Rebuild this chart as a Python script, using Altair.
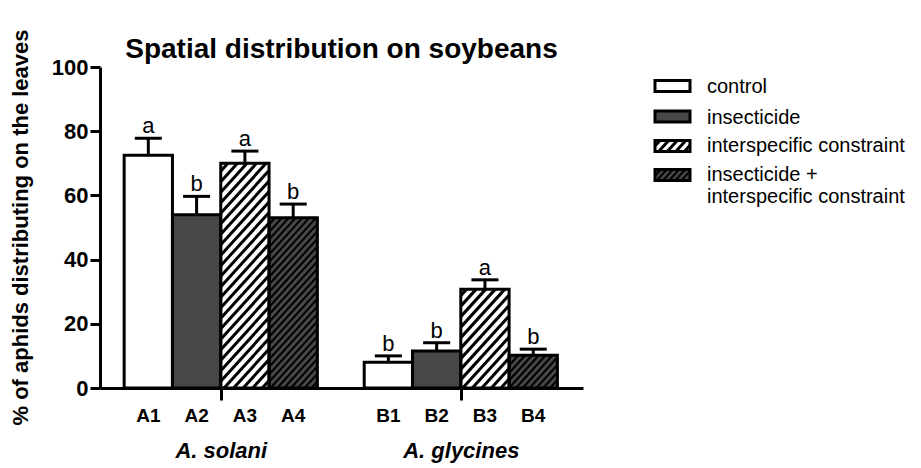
import altair as alt
import pandas as pd
import math

# ---------------- data ----------------
bar_labels = ["A1", "A2", "A3", "A4", "B1", "B2", "B3", "B4"]
species = ["A. solani", "A. glycines"]
treatments = ["control", "insecticide", "interspecific constraint",
              "insecticide + interspecific constraint"]
means = [72.5, 54.0, 70.0, 53.0, 8.0, 11.5, 30.8, 10.2]
errors = [5.3, 5.7, 3.8, 4.3, 2.0, 2.6, 2.9, 1.9]
letters = ["a", "b", "a", "b", "b", "b", "a", "b"]
y_ticks = [0, 20, 40, 60, 80, 100]

# ---------------- layout / style ----------------
FONT = "Liberation Sans"
W, H = 483, 321
XMAX, YMAX = 10.0, 100.0
PXX, PXY = W / XMAX, H / YMAX
PAD_L, PAD_T = 92, 59
TOT_W, TOT_H = 905, 458
group_start = [0.5, 5.47]
bar_w = 1.0
cap_half = 0.28
fills = ["white", "#474747", "white", "#474747"]
hatch = [None, None, (10.5, 3.0), (7.5, 2.0)]  # (vertical spacing px, stroke px)
SLOPE = 1.1


def hatch_segments(L, R, B, T, spacing):
    """segments of '/' hatching clipped to a pixel rectangle (y upward)"""
    segs = []
    k0 = math.floor((B - SLOPE * R) / spacing)
    k1 = math.ceil((T - SLOPE * L) / spacing)
    for k in range(k0, k1 + 1):
        c = k * spacing
        xa = max(L, (B - c) / SLOPE)
        xb = min(R, (T - c) / SLOPE)
        if xb - xa > 0.5:
            segs.append((xa, SLOPE * xa + c, xb, SLOPE * xb + c))
    return segs


rows, hrows = [], []
for i, lab in enumerate(bar_labels):
    g, j = divmod(i, 4)
    x0 = group_start[g] + j * bar_w
    x1 = x0 + bar_w
    rows.append(dict(label=lab, treat=treatments[j], x0=x0, x1=x1,
                     xc=(x0 + x1) / 2, cl=(x0 + x1) / 2 - cap_half,
                     cr=(x0 + x1) / 2 + cap_half, zero=0.0, mean=means[i],
                     top=means[i] + errors[i], letter=letters[i], fill=fills[j]))
    if hatch[j]:
        sp, sw = hatch[j]
        for (xa, ya, xb, yb) in hatch_segments(x0 * PXX, x1 * PXX, 0, means[i] * PXY, sp):
            hrows.append(dict(hx=xa / PXX, hy=ya / PXY, hx2=xb / PXX, hy2=yb / PXY, sw=sw))

bars = pd.DataFrame(rows)

# legend (positioned in page pixels, converted to the chart's data units)
PLOT_X0 = PAD_L + 8
PLOT_Y1 = PAD_T + 8 + H


def px2x(page_x):
    return (page_x - PLOT_X0) / PXX


def py2y(page_y):
    return (PLOT_Y1 - page_y) / PXY


leg_sw = [86, 116.5, 146, 175]
lrows = []
for j, t in enumerate(treatments):
    L, R = 655 - PLOT_X0, 690 - PLOT_X0
    B, T = PLOT_Y1 - (leg_sw[j] + 5.5), PLOT_Y1 - (leg_sw[j] - 5.5)
    lrows.append(dict(lx=L / PXX, lx2=R / PXX, ly=B / PXY, ly2=T / PXY, fill=fills[j]))
    if hatch[j]:
        sp, sw = hatch[j]
        for (xa, ya, xb, yb) in hatch_segments(L, R, B, T, sp * 0.9):
            hrows.append(dict(hx=xa / PXX, hy=ya / PXY, hx2=xb / PXX, hy2=yb / PXY, sw=sw))
legend_sw = pd.DataFrame(lrows)
hatch_df = pd.DataFrame(hrows)

leg_lines = [treatments[0], treatments[1], treatments[2]] + \
    [treatments[3].split(" + ")[0] + " +", treatments[3].split(" + ")[1]]
leg_base = [93, 123.5, 152, 181, 203]
legend_txt = pd.DataFrame(dict(t=leg_lines, tx=[px2x(707)] * 5,
                               ty=[py2y(b) for b in leg_base]))

group_centers = [group_start[0] + 2 * bar_w, group_start[1] + 2 * bar_w]

xs = alt.Scale(domain=[0, XMAX], nice=False, zero=False)
ys = alt.Scale(domain=[0, YMAX], nice=False, zero=False)
label_expr = f"abs(datum.value - {group_centers[0]}) < 0.01 ? '{species[0]}' : '{species[1]}'"

x_axis = alt.Axis(
    values=group_centers, labelExpr=label_expr, title=None, grid=False,
    labelFontStyle="italic", labelFontWeight="bold", labelFontSize=22,
    labelBaseline="alphabetic", labelPadding=57, tickSize=12,
    labelFlush=False, labelOverlap=False)
y_axis = alt.Axis(
    values=y_ticks, title="% of aphids distributing on the leaves", grid=False,
    titleFontSize=22, titleFontWeight="bold", titleX=-73, titleY=160,
    titleBaseline="alphabetic", labelFontSize=22, labelFontWeight="bold",
    tickSize=10, labelPadding=2)


def X(f):
    return alt.X(f, scale=xs, axis=x_axis)


def Y(f):
    return alt.Y(f, scale=ys, axis=y_axis)


base = alt.Chart(bars)

fill_layer = base.mark_rect(strokeWidth=0).encode(
    x=X("x0:Q"), x2="x1:Q", y=Y("zero:Q"), y2="mean:Q",
    color=alt.Color("fill:N", scale=None),
)

leg_fill = alt.Chart(legend_sw).mark_rect(strokeWidth=0).encode(
    x=X("lx:Q"), x2="lx2:Q", y=Y("ly:Q"), y2="ly2:Q",
    color=alt.Color("fill:N", scale=None),
)

hatch_layer = alt.Chart(hatch_df).mark_rule(color="black", strokeCap="butt").encode(
    x=X("hx:Q"), x2="hx2:Q", y=Y("hy:Q"), y2="hy2:Q",
    strokeWidth=alt.StrokeWidth("sw:Q", scale=None),
)

outline_layer = base.mark_rect(fill="white", fillOpacity=0, stroke="black", strokeWidth=3).encode(
    x=X("x0:Q"), x2="x1:Q", y=Y("zero:Q"), y2="mean:Q",
)

stem_layer = base.mark_rule(color="black", strokeWidth=3).encode(
    x=X("xc:Q"), y=Y("mean:Q"), y2="top:Q",
)

cap_layer = base.mark_rule(color="black", strokeWidth=3).encode(
    x=X("cl:Q"), x2="cr:Q", y=Y("top:Q"),
)

letter_layer = base.mark_text(fontSize=22, baseline="alphabetic", dy=-5,
                              color="black", font=FONT).encode(
    x=X("xc:Q"), y=Y("top:Q"), text="letter:N",
)

barlab_layer = base.mark_text(fontSize=19, fontWeight="bold", baseline="alphabetic",
                              color="black", font=FONT).encode(
    x=X("xc:Q"), y=alt.value(355), text="label:N",
)

leg_outline = alt.Chart(legend_sw).mark_rect(fill="white", fillOpacity=0, stroke="black",
                                             strokeWidth=3).encode(
    x=X("lx:Q"), x2="lx2:Q", y=Y("ly:Q"), y2="ly2:Q",
)
leg_text = alt.Chart(legend_txt).mark_text(fontSize=20, align="left", baseline="alphabetic",
                                           color="black", font=FONT).encode(
    x=X("tx:Q"), y=Y("ty:Q"), text="t:N",
)

chart = alt.layer(
    fill_layer, leg_fill, hatch_layer, outline_layer, leg_outline, stem_layer, cap_layer,
    letter_layer, barlab_layer, leg_text,
).properties(
    width=W, height=H, background="white",
    title=alt.TitleParams("Spatial distribution on soybeans", fontSize=28,
                          fontWeight="bold", anchor="middle", frame="group",
                          offset=4, dy=39, font=FONT, color="black"),
    autosize=alt.AutoSizeParams(type="none"),
    padding={"left": PAD_L, "top": PAD_T, "right": TOT_W - PAD_L - W,
             "bottom": TOT_H - PAD_T - H},
).configure_view(strokeWidth=0, stroke="transparent").configure_axis(
    domainColor="black", domainWidth=3, tickColor="black", tickWidth=3,
    labelColor="black", titleColor="black", grid=False,
    labelFont=FONT, titleFont=FONT,
)

chart.save("out.html", embed_options={"renderer": "svg", "actions": False})
